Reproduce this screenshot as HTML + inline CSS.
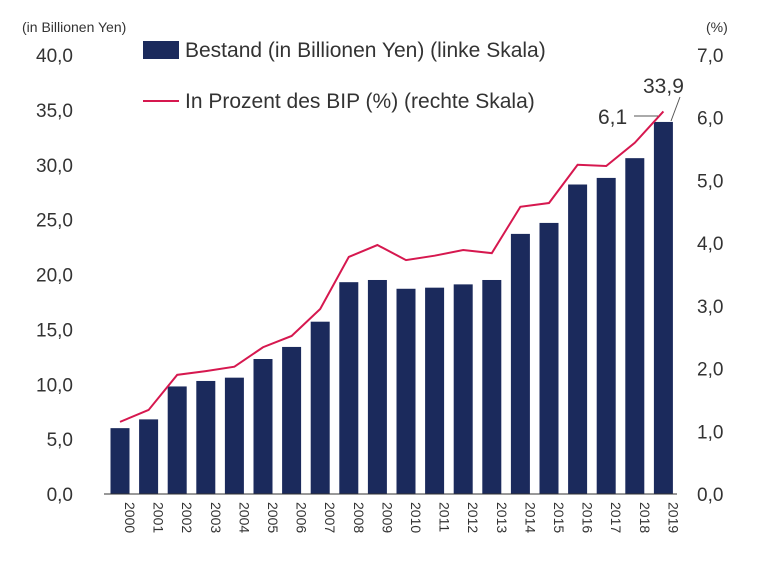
<!DOCTYPE html>
<html><head><meta charset="utf-8"><style>
body{margin:0;background:#fff;}
svg{display:block;font-family:"Liberation Sans",sans-serif;}
</style></head><body>
<svg id="chart" width="768" height="561"></svg>
<script>
const years=["2000","2001","2002","2003","2004","2005","2006","2007","2008","2009","2010","2011","2012","2013","2014","2015","2016","2017","2018","2019"];
const stock=[6.0,6.8,9.8,10.3,10.6,12.3,13.4,15.7,19.3,19.5,18.7,18.8,19.1,19.5,23.7,24.7,28.2,28.8,30.6,33.9];
const pct=[1.15,1.34,1.9,1.96,2.03,2.34,2.52,2.95,3.78,3.97,3.73,3.8,3.89,3.84,4.58,4.64,5.25,5.23,5.6,6.1];
const leftTicks=["0,0","5,0","10,0","15,0","20,0","25,0","30,0","35,0","40,0"];
const rightTicks=["0,0","1,0","2,0","3,0","4,0","5,0","6,0","7,0"];
const svg=document.getElementById('chart');const NS="http://www.w3.org/2000/svg";
function el(t,a,txt){const e=document.createElementNS(NS,t);for(const k in a)e.setAttribute(k,a[k]);if(txt!==undefined)e.textContent=txt;svg.appendChild(e);return e;}
const y0=494,yTop=55;
const yL=v=>y0-(v/40)*(y0-yTop);
const yR=v=>y0-(v/7)*(y0-yTop);
const x=i=>120+i*28.6;
leftTicks.forEach((t,i)=>{const e=el('text',{x:73,y:yL(i*5)+7,'text-anchor':'end','font-size':19,fill:'#333'},t);
});
rightTicks.forEach((t,i)=>{const e=el('text',{x:697,y:yR(i)+7,'font-size':19,fill:'#333'},t);
});
let e=el('text',{x:22,y:32,'font-size':14,fill:'#333'},'(in Billionen Yen)');
e=el('text',{x:706,y:32,'font-size':14,fill:'#333'},'(%)');
stock.forEach((v,i)=>{const b=el('rect',{x:x(i)-9.5,y:yL(v),width:19,height:y0-yL(v),fill:'#1b2a5c'});
});
e=el('line',{x1:104,x2:677,y1:y0,y2:y0,stroke:'#333','stroke-width':1});
years.forEach((t,i)=>{const l=el('text',{x:0,y:0,'font-size':14,fill:'#333','text-anchor':'start',transform:`translate(${x(i)+5},502) rotate(90)`},t);
});
const p=el('polyline',{points:pct.map((v,i)=>x(i)+','+yR(v)).join(' '),fill:'none',stroke:'#d6184f','stroke-width':2});

e=el('rect',{x:143,y:41,width:36,height:18,fill:'#1b2a5c'});
e=el('text',{x:185,y:57,'font-size':21,fill:'#333'},'Bestand (in Billionen Yen) (linke Skala)');
e=el('line',{x1:143,x2:179,y1:101,y2:101,stroke:'#d6184f','stroke-width':2});
e=el('text',{x:185,y:108,'font-size':21,fill:'#333'},'In Prozent des BIP (%) (rechte Skala)');
e=el('text',{x:643,y:93,'font-size':21,fill:'#333'},'33,9');
e=el('line',{x1:680,y1:97,x2:671,y2:121,stroke:'#555','stroke-width':1});
e=el('text',{x:598,y:124,'font-size':21,fill:'#333'},'6,1');
e=el('line',{x1:634,y1:116,x2:658,y2:116,stroke:'#555','stroke-width':1});
</script>
</body></html>
